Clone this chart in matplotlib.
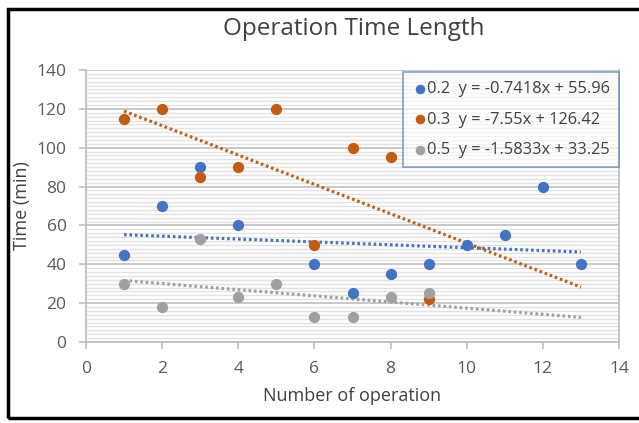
import numpy as np
import matplotlib
matplotlib.use("Agg")
from matplotlib import pyplot as plt
from matplotlib.patches import Rectangle

# series 0.2
x_02 = [1, 2, 3, 4, 6, 7, 8, 9, 10, 11, 12, 13]
y_02 = [45, 70, 90, 60, 40, 25, 35, 40, 50, 55, 80, 40]
# series 0.3
x_03 = [1, 2, 3, 4, 5, 6, 7, 8, 9]
y_03 = [115, 120, 85, 90, 120, 50, 100, 95, 22]
# series 0.5
x_05 = [1, 2, 3, 4, 5, 6, 7, 8, 9]
y_05 = [30, 18, 53, 23, 30, 13, 13, 23, 25]

# trendline coefficients (slope, intercept) shown in the legend
trend_02 = (-0.7418, 55.96)
trend_03 = (-7.55, 126.42)
trend_05 = (-1.5833, 33.25)
trend_x = [1, 13]

names = ["0.2", "0.3", "0.5"]
colors = ["#4472C4", "#C55A11", "#A0A0A0"]

plt.rcParams['font.family'] = ['Open Sans', 'DejaVu Sans']

fig = plt.figure(figsize=(6.39, 4.23), dpi=100)
ax = fig.add_axes([86 / 639, 1 - 342 / 423, 533 / 639, 272 / 423])

series = [(x_02, y_02, trend_02), (x_03, y_03, trend_03), (x_05, y_05, trend_05)]
handles = []
labels = []
for (xs, ys, (m, b)), name, c in zip(series, names, colors):
    h = ax.scatter(xs, ys, s=66, color=c, zorder=3, linewidths=0)
    tx = np.array(trend_x)
    ax.plot(tx, m * tx + b, color=c, lw=2.3, linestyle=(0, (0.8, 0.9)), zorder=2)
    handles.append(h)
    labels.append(f"{name}  y = {m:g}x + {b:g}")

ax.set_xlim(0, 14)
ax.set_ylim(0, 140)
ax.set_xticks(range(0, 15, 2))
ax.set_yticks(range(0, 141, 20))
ax.set_yticks(range(0, 141, 2), minor=True)
ax.grid(True, which="major", axis="y", color="#c4c4c4", lw=1.3)
ax.grid(True, which="minor", axis="y", color="#e2e2e2", lw=1.0)
ax.set_axisbelow(True)
ax.tick_params(axis="both", which="major", colors="#bfbfbf", labelcolor="#595959",
               labelsize=12.5, length=5, width=1.2)
ax.tick_params(axis="y", which="major", pad=9)
ax.tick_params(axis="x", which="major", pad=9)
ax.tick_params(axis="y", which="minor", length=0)
for s in ax.spines.values():
    s.set_color("#bfbfbf")
    s.set_linewidth(1.3)
ax.spines["top"].set_visible(False)

ax.set_xlabel("Number of operation", fontsize=13, color="#404040")
ax.set_ylabel("Time (min)", fontsize=13, color="#404040")
ax.xaxis.set_label_coords(0.5, -0.165)
ax.yaxis.set_label_coords(-0.103, 0.5)
fig.text(0.553, 1 - 29 / 423, "Operation Time Length", fontsize=17.5, color="#404040",
         ha="center", va="center")

leg = ax.legend(handles, labels, loc="upper right", bbox_to_anchor=(1.0, 0.993),
                fontsize=11.8, handletextpad=0.0, borderpad=0.55, labelspacing=0.9,
                frameon=True, fancybox=False, markerscale=0.85, handlelength=0.9,
                borderaxespad=0.0)
leg.get_frame().set_edgecolor("#4a6fa5")
leg.get_frame().set_linewidth(1.3)
leg.get_frame().set_facecolor("white")
leg.get_frame().set_alpha(0.6)
for t in leg.get_texts():
    t.set_color("#404040")

# outer border around the chart
fig.patches.append(Rectangle((8 / 639, 1 - 418 / 423), 640 / 639, 409 / 423,
                             transform=fig.transFigure, fill=False,
                             edgecolor="black", lw=2.5))

fig.savefig("out.png", dpi=100)
